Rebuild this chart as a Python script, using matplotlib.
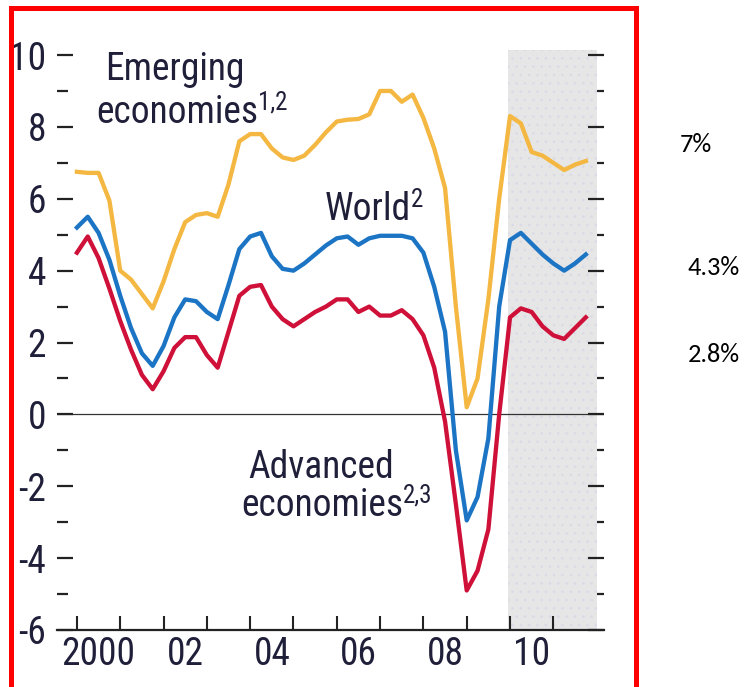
import numpy as np
import matplotlib
matplotlib.use("Agg")
import matplotlib.pyplot as plt
from matplotlib import font_manager
from matplotlib.patches import Rectangle
from matplotlib.ticker import FixedLocator

# quarterly points, 2000Q1 .. 2011Q4
quarters = 2000 + np.arange(48) / 4.0

emerging = [6.75, 6.72, 6.72, 5.95, 4.0, 3.75, 3.35, 2.95,
            3.7, 4.6, 5.35, 5.55, 5.6, 5.5, 6.4, 7.6,
            7.8, 7.8, 7.4, 7.15, 7.08, 7.2, 7.5, 7.85,
            8.15, 8.2, 8.22, 8.35, 9.0, 9.0, 8.7, 8.9,
            8.25, 7.4, 6.3, 3.0, 0.2, 1.0, 3.2, 6.0,
            8.3, 8.1, 7.3, 7.2, 7.0, 6.8, 6.95, 7.05]

world = [5.2, 5.5, 5.05, 4.3, 3.3, 2.4, 1.7, 1.35,
         1.9, 2.7, 3.2, 3.15, 2.85, 2.65, 3.6, 4.6,
         4.95, 5.05, 4.4, 4.05, 4.0, 4.2, 4.45, 4.7,
         4.9, 4.95, 4.72, 4.9, 4.97, 4.97, 4.97, 4.9,
         4.5, 3.55, 2.3, -1.0, -2.95, -2.3, -0.67, 3.0,
         4.85, 5.05, 4.75, 4.45, 4.2, 4.0, 4.2, 4.45]

advanced = [4.5, 4.95, 4.35, 3.5, 2.6, 1.8, 1.1, 0.7,
            1.2, 1.85, 2.15, 2.15, 1.65, 1.3, 2.3, 3.3,
            3.55, 3.6, 3.0, 2.65, 2.45, 2.65, 2.85, 3.0,
            3.2, 3.2, 2.85, 3.0, 2.75, 2.75, 2.9, 2.65,
            2.2, 1.3, -0.2, -2.5, -4.9, -4.35, -3.2, 0.0,
            2.7, 2.95, 2.85, 2.45, 2.2, 2.1, 2.4, 2.7]

year_ticks = list(range(2000, 2012))
label_pos = [2000.5, 2002.5, 2004.5, 2006.5, 2008.5, 2010.5]
label_txt = ["2000", "02", "04", "06", "08", "10"]
y_major = [-6, -4, -2, 0, 2, 4, 6, 8, 10]
y_minor = [-5, -3, -1, 1, 3, 5, 7, 9]
forecast_start = 2009.95
forecast_end = 2012.0
side_labels = ["7%", "4.3%", "2.8%"]

c_yellow = "#f4b842"
c_blue = "#1b74c4"
c_red = "#cf1039"
c_text = "#1f1f3a"


def pick_font(cands, default):
    have = {f.name for f in font_manager.fontManager.ttflist}
    for c in cands:
        if c in have:
            return c
    return default


narrow = pick_font(["Roboto Condensed", "Archivo Narrow", "Liberation Sans Narrow",
                    "PT Sans Narrow", "Barlow Semi Condensed"], "DejaVu Sans")
calib = pick_font(["Carlito", "Lato", "Open Sans"], "DejaVu Sans")
plt.rcParams["font.family"] = [narrow, "DejaVu Sans"]

W, H = 747, 687
fig = plt.figure(figsize=(W / 100, H / 100), dpi=100)
ax = fig.add_axes([57 / W, 57 / H, 547 / W, 580 / H])
ax.set_xlim(1999.54, 2012.17)
ax.set_ylim(-6, 10.14)

plt.rcParams["hatch.linewidth"] = 0.6
ax.axvspan(forecast_start, forecast_end, facecolor="#e6e6e6", edgecolor="#dadae6",
           hatch="..", lw=0, zorder=0)
ax.axhline(0, color="#333333", lw=0.9, zorder=1)

ax.plot(quarters, emerging, color=c_yellow, lw=3.1, zorder=3)
ax.plot(quarters, world, color=c_blue, lw=3.1, zorder=3)
ax.plot(quarters, advanced, color=c_red, lw=3.1, zorder=3)

for s in ["left", "right", "top"]:
    ax.spines[s].set_visible(False)
ax.spines["bottom"].set_linewidth(1.6)
ax.spines["bottom"].set_color("#222222")

# x axis: year ticks, labels centred in the year
ax.xaxis.set_major_locator(FixedLocator(year_ticks))
ax.xaxis.set_minor_locator(FixedLocator(label_pos))
ax.set_xticklabels([], minor=False)
ax.set_xticklabels(label_txt, minor=True)
ax.tick_params(axis="x", which="major", direction="in", length=10, width=1.5,
               color="#222222")
ax.tick_params(axis="x", which="minor", length=0, pad=4, labelsize=27,
               labelcolor=c_text)

# left y axis
ax.yaxis.set_major_locator(FixedLocator(y_major))
ax.yaxis.set_minor_locator(FixedLocator(y_minor))
ax.set_yticklabels([str(v) for v in y_major])
ax.tick_params(axis="y", which="major", direction="in", length=11.5, width=1.6,
               color="#222222", pad=8, labelsize=27, labelcolor=c_text)
ax.tick_params(axis="y", which="minor", direction="in", length=8, width=1.6,
               color="#222222")

# right y axis ticks only
ax2 = ax.twinx()
ax2.set_ylim(ax.get_ylim())
for s in ["left", "right", "top", "bottom"]:
    ax2.spines[s].set_visible(False)
ax2.yaxis.set_major_locator(FixedLocator(y_major))
ax2.yaxis.set_minor_locator(FixedLocator(y_minor))
ax2.tick_params(axis="y", which="major", direction="in", length=11.5, width=1.6,
                color="#222222", labelright=False)
ax2.tick_params(axis="y", which="minor", direction="in", length=5, width=1.6,
                color="#222222")

# series labels, superscripts hung off the end of the word
lab = dict(fontsize=27, color=c_text, ha="left", va="baseline", zorder=4)
sup = dict(fontsize=18, color=c_text, ha="left", va="top", zorder=4,
           xy=(1, 1), xytext=(-0.5, 2.5), textcoords="offset points")
ax.text(2000.65, 9.3, "Emerging", **lab)
t1 = ax.text(2000.45, 8.1, "economies", **lab)
ax.annotate("1,2", xycoords=t1, **sup)
t2 = ax.text(2005.73, 5.41, "World", **lab)
ax.annotate("2", xycoords=t2, **sup)
ax.text(2003.95, -1.78, "Advanced", **lab)
t3 = ax.text(2003.8, -2.84, "economies", **lab)
ax.annotate("2,3", xycoords=t3, **sup)

# values on the right
side = dict(fontsize=19, color="black", family=[calib, "DejaVu Sans"],
            ha="left", va="center")
fig.text(680 / W, 1 - 144 / H, side_labels[0], **side)
fig.text(688 / W, 1 - 268 / H, side_labels[1], **side)
fig.text(688 / W, 1 - 355 / H, side_labels[2], **side)

# red frame
fig.add_artist(Rectangle((11 / W, -0.05), 625 / W, 1.05 - 7.5 / H,
                         transform=fig.transFigure, fill=False,
                         edgecolor="red", lw=3.6))

fig.savefig("out.png", dpi=100)
